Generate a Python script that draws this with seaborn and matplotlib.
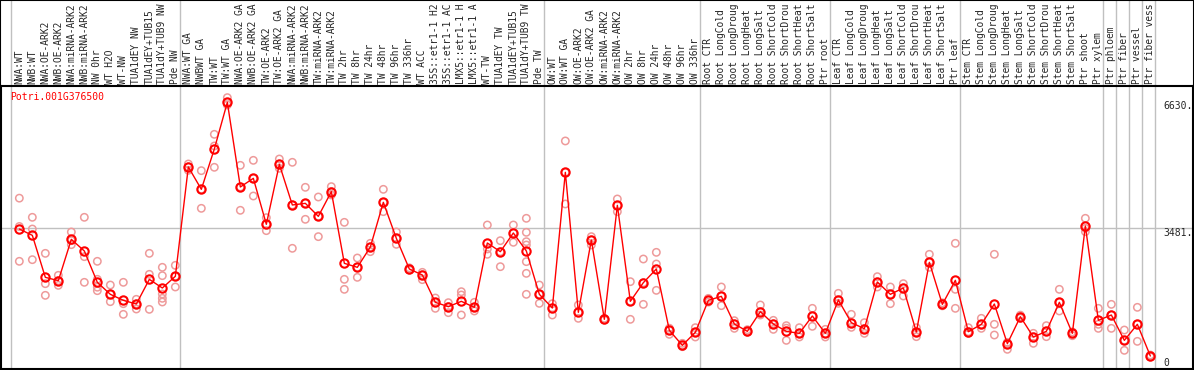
import matplotlib
matplotlib.use("Agg")
import matplotlib.pyplot as plt
import matplotlib.transforms as mtransforms
from matplotlib.patches import Rectangle
import seaborn as sns
import pandas as pd

# sample labels, left to right (names are cut to 14 characters as in the original)
labels = [
    "NWA:WT", "NWB:WT", "NWA:OE-ARK2", "NWB:OE-ARK2", "NWA:miRNA-ARK2", "NWB:miRNA-ARK2",
    "NW 0hr", "WT H2O", "WT-NW", "TUA1dEY NW", "TUA1dEY+TUB15", "TUA1dY+TUB9 NW", "Pde NW",
    "NWA:WT GA", "NWBWT GA", "TW:WT", "TW:WT GA", "NWA:OE-ARK2 GA", "NWB:OE-ARK2 GA",
    "TW:OE-ARK2", "TW:OE-ARK2 GA", "NWA:miRNA-ARK2", "NWB:miRNA-ARK2", "TW:miRNA-ARK2",
    "TW:miRNA-ARK2", "TW 2hr", "TW 8hr", "TW 24hr", "TW 48hr", "TW 96hr", "TW 336hr",
    "WT ACC", "35S::etr1-1 H2", "35S::etr1-1 AC", "LMX5::etr1-1 H", "LMX5::etr1-1 A",
    "WT-TW", "TUA1dEY TW", "TUA1dEY+TUB15", "TUA1dY+TUB9 TW", "Pde TW",
    "OW:WT", "OW:WT GA", "OW:OE-ARK2", "OW:OE-ARK2 GA", "OW:miRNA-ARK2", "OW:miRNA-ARK2",
    "OW 2hr", "OW 8hr", "OW 24hr", "OW 48hr", "OW 96hr", "OW 336hr",
    "Root CTR", "Root LongCold", "Root LongDroug", "Root LongHeat", "Root LongSalt",
    "Root ShortCold", "Root ShortDrou", "Root ShortHeat", "Root ShortSalt", "Ptr root",
    "Leaf CTR", "Leaf LongCold", "Leaf LongDroug", "Leaf LongHeat", "Leaf LongSalt",
    "Leaf ShortCold", "Leaf ShortDrou", "Leaf ShortHeat", "Leaf ShortSalt", "Ptr leaf",
    "Stem CTR", "Stem LongCold", "Stem LongDroug", "Stem LongHeat", "Stem LongSalt",
    "Stem ShortCold", "Stem ShortDrou", "Stem ShortHeat", "Stem ShortSalt", "Ptr shoot",
    "Ptr xylem", "Ptr phloem", "Ptr fiber", "Ptr vessel", "Ptr fiber vess",
]

# mean expression per sample
means = [
    3462, 3292, 2165, 2076, 3185, 2872, 2031, 1709, 1548, 1449, 2111, 1879, 2192,
    5127, 4527, 5610, 6862, 4590, 4822, 3588, 5198, 4107, 4151, 3802, 4465, 2541, 2434,
    2979, 4178, 3212, 2389, 2228, 1494, 1378, 1521, 1360, 3087, 2854, 3355, 2872, 1709,
    1342, 4983, 1226, 3167, 1038, 4098, 1521, 2022, 2389, 743, 340, 689,
    1548, 1655, 913, 716, 1244, 913, 716, 662, 1127, 662,
    1557, 948, 787, 2040, 1709, 1879, 698, 2568, 1440, 2085,
    707, 904, 1449, 385, 1109, 564, 716, 1494, 662, 3543,
    1011, 1154, 474, 904, 54,
]

# biological replicates per sample
replicates = [
    [4290, 3530, 2595], [3776, 3462, 2639], [2809, 1995, 1682], [2219, 2076, 1950],
    [3382, 3150, 3042], [3776, 2720, 2031], [2595, 2112, 1900, 1807], [1959, 1709, 1512],
    [2031, 1458, 1172], [1575, 1449, 1315], [2809, 2246, 1306], [2434, 2210, 1718, 1602, 1503],
    [2487, 2192, 1906],
    [5207, 5127, 5037], [5028, 4527, 4017], [6003, 5690, 5118], [6988, 6862, 6791],
    [5171, 4590, 3964], [5305, 4822, 4348], [3767, 3588, 3418], [5341, 5198, 5091],
    [5252, 4107, 2944], [4581, 4151, 3722], [4321, 3802, 3257], [4599, 4465, 4375],
    [3641, 2111, 1843], [2684, 2434, 2165], [3078, 2979, 2854], [4527, 4178, 3928],
    [3382, 3212, 3051], [2420, 2389, 2360], [2299, 2228, 2103], [1610, 1494, 1333],
    [1485, 1378, 1217], [1780, 1691, 1154], [1494, 1360, 1262], [3570, 2926, 2783],
    [3149, 2854, 2451], [3570, 3355, 3105], [3749, 3373, 3122, 3033, 2586, 2272, 1709],
    [1959, 1709, 1467],
    [1458, 1342, 1154], [5825, 4983, 4134], [1423, 1226, 1065], [3257, 3167, 3033],
    [1065, 1038, 1020], [4268, 4098, 3928], [2049, 1521, 1038], [2657, 2022, 1440],
    [2836, 2523, 1816], [800, 743, 635], [394, 340, 304], [814, 689, 564],
    [1600, 1548, 1500], [1906, 1655, 1405], [1002, 913, 796], [760, 716, 690],
    [1423, 1244, 1154], [1011, 913, 769], [868, 800, 474], [814, 662, 564],
    [1333, 1127, 850], [769, 662, 564],
    [1736, 1557, 1467], [1172, 948, 823], [948, 787, 662], [2183, 2040, 1906],
    [1906, 1709, 1458], [1995, 1879, 1664], [814, 698, 573], [2783, 2568, 2434],
    [1480, 1440, 1400], [3078, 1843, 1333],
    [814, 707, 662], [1065, 904, 796], [2783, 904, 617], [420, 385, 233],
    [1150, 1109, 1070], [662, 564, 394], [868, 716, 573], [1843, 1494, 1262],
    [700, 662, 599], [3749, 3480, 3391],
    [1333, 904, 796], [1440, 1154, 796], [751, 474, 206], [1360, 904, 447], [80, 54, 30],
]

# last sample index of each block (vertical separators)
group_ends = [-1, 12, 40, 52, 62, 72, 83, 84, 85, 86, 87]
axis_values = [6630, 3481, 0]
gene = "Potri.001G376500"

sns.set_style("white")
plt.rcParams["font.family"] = ["DejaVu Sans Mono"]

xs = list(range(len(means)))
rep_df = pd.DataFrame(
    [(i, v) for i, reps in enumerate(replicates) for v in reps], columns=["x", "value"]
)

fig = plt.figure(figsize=(11.94, 3.70), dpi=100)
ax = fig.add_axes([1 / 1194, 1 / 370, 1192 / 1194, 283 / 370])

ax.set_xlim(-1.41, 90.28)
ax.set_ylim(-295, 7300)

for b in group_ends:
    ax.axvline(b + 0.38, ymin=0, ymax=369 / 283, color="#c0c0c0", lw=1,
               clip_on=False, zorder=0)
ax.axhline(axis_values[1], color="#c0c0c0", lw=1, zorder=0)

sns.scatterplot(data=rep_df, x="x", y="value", ax=ax, marker="o", s=28,
                facecolors="none", edgecolor="#ee9a9a", linewidth=1.1, zorder=2)
sns.lineplot(x=xs, y=means, ax=ax, color="red", lw=1, marker="o", markersize=6,
             markerfacecolor="none", markeredgecolor="red", markeredgewidth=1.5,
             zorder=3)

ax.set_xticks([])
ax.set_yticks([])
ax.set_xlabel("")
ax.set_ylabel("")
for s in ax.spines.values():
    s.set_color("black")
    s.set_linewidth(1.5)

# sample names above the plot
top = mtransforms.blended_transform_factory(ax.transData, ax.transAxes)
for i, lab in enumerate(labels):
    ax.text(i, 1 + 2 / 283, lab, rotation=90, ha="center", va="bottom",
            fontsize=6.9, transform=top, clip_on=False)

# value labels on the right
right = mtransforms.blended_transform_factory(ax.transAxes, ax.transData)
ax.text(1162 / 1192, axis_values[0], "6630.", fontsize=7, va="bottom", transform=right)
ax.text(1162 / 1192, axis_values[1], "3481.", fontsize=7, va="top", transform=right)
ax.text(1162 / 1192, axis_values[2], "0", fontsize=7, va="top", transform=right)

ax.text(9 / 1192, 1 - 6 / 283, gene, color="red", fontsize=7, va="top",
        transform=ax.transAxes)

fig.patches.append(Rectangle((0, 0), 1, 1, transform=fig.transFigure, fill=False,
                             ec="black", lw=1.5))

fig.savefig("out.png", dpi=100)
